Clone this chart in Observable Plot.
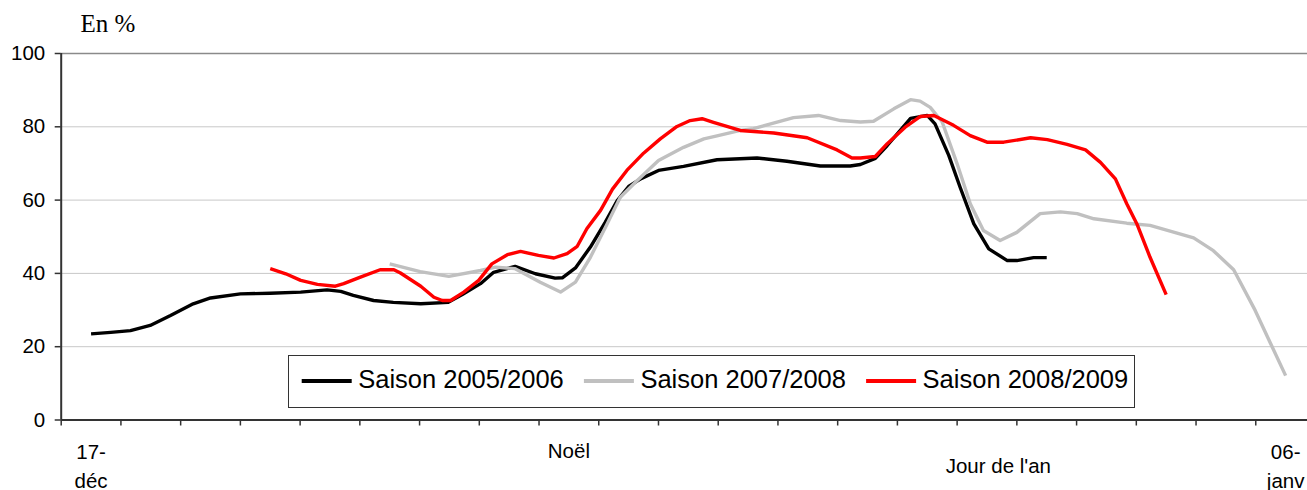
<!DOCTYPE html>
<html>
<head>
<meta charset="utf-8">
<script src="https://cdn.jsdelivr.net/npm/d3@7"></script>
<script src="https://cdn.jsdelivr.net/npm/@observablehq/plot@0.6"></script>
<style>
  html, body { margin: 0; padding: 0; background: white; overflow: hidden; }
</style>
</head>
<body>
<div id="chart"></div>
<script>
// ---- data (x = position on the category axis: 17-déc centre = 0.5, each day = 1) ----
const seriesNames = ["Saison 2005/2006", "Saison 2007/2008", "Saison 2008/2009"];
const seriesColors = ["#000000", "#c0c0c0", "#ff0000"];

const blackPos = [0.5,0.83,1.16,1.49,1.83,2.21,2.5,3.0,3.5,4.01,4.45,4.68,4.89,5.23,5.56,6.02,6.48,6.73,7.02,7.24,7.6,7.94,8.27,8.39,8.61,8.86,9.11,9.31,9.5,9.7,10.0,10.42,10.98,11.65,12.15,12.71,13.21,13.38,13.63,13.83,14.22,14.5,14.63,14.86,15.05,15.28,15.53,15.84,16.0,16.28,16.5];
const blackVal = [23.5,23.9,24.4,25.8,28.5,31.7,33.3,34.4,34.6,34.9,35.5,35.1,34.0,32.6,32.1,31.7,32.1,34.4,37.2,40.3,41.9,39.9,38.7,38.8,41.5,47.2,54.0,59.9,63.7,65.8,68.1,69.2,71.0,71.5,70.6,69.3,69.3,69.7,71.4,74.9,82.3,83.1,80.8,72.2,63.5,53.5,46.7,43.5,43.5,44.3,44.3];

const grayPos = [5.5,6.01,6.49,7.02,7.27,7.6,8.02,8.36,8.61,8.86,9.14,9.36,9.64,10.0,10.42,10.76,10.98,11.37,11.59,12.26,12.68,13.05,13.38,13.6,13.94,14.22,14.38,14.55,14.75,15.0,15.22,15.44,15.72,16.0,16.39,16.73,17.01,17.29,17.84,18.23,18.96,19.29,19.63,19.99,20.25,20.5];
const grayVal = [42.6,40.5,39.2,40.8,41.7,41.3,37.6,34.9,37.6,44.4,53.5,60.8,65.3,70.8,74.4,76.7,77.5,79.0,79.5,82.5,83.1,81.7,81.3,81.5,84.9,87.4,87.0,85.3,81.3,69.9,59.0,51.7,49.0,51.2,56.3,56.8,56.3,54.9,53.7,53.1,49.7,46.2,41.0,29.9,20.8,12.1];

const redPos = [3.5,3.76,4.01,4.29,4.59,4.73,5.01,5.34,5.57,5.68,6.02,6.24,6.38,6.52,6.74,6.99,7.21,7.47,7.69,7.99,8.25,8.47,8.64,8.8,9.03,9.23,9.47,9.75,10.03,10.31,10.53,10.73,10.92,11.37,11.93,12.49,12.99,13.24,13.38,13.63,13.83,14.13,14.38,14.61,14.94,15.22,15.5,15.78,16.23,16.51,16.84,17.15,17.4,17.65,17.84,18.01,18.23,18.5];
const redVal = [41.3,39.9,38.1,37.0,36.5,37.2,39.0,41.0,41.0,40.1,36.5,33.5,32.6,32.6,34.9,38.1,42.6,45.1,46.0,44.9,44.2,45.4,47.4,52.2,57.2,63.0,68.1,72.8,76.7,80.1,81.7,82.2,81.2,79.0,78.3,77.0,73.7,71.5,71.5,71.9,75.4,79.9,82.8,83.1,80.4,77.6,75.8,75.8,77.0,76.5,75.2,73.7,70.3,65.8,59.0,53.5,44.4,34.2];

const yTicks = [0, 20, 40, 60, 80, 100];
const gridValues = [20, 40, 60, 80];
const xTicks = d3.range(0, 22);

const twoLineLabels = [
  {pos: 0.5, label: "17-\ndéc"},
  {pos: 20.5, label: "06-\njanv"}
];
const noelLabel = [{pos: 8.5, label: "Noël"}];
const anLabel = [{pos: 15.69, label: "Jour de l'an"}];

// ---- build table ----
const allPos = [blackPos, grayPos, redPos];
const allVal = [blackVal, grayVal, redVal];
const rows = [];
seriesNames.forEach((name, i) => {
  allPos[i].forEach((p, j) => rows.push({series: name, pos: p, val: allVal[i][j]}));
});

const sans = "'Liberation Sans', Arial, sans-serif";

const svg = Plot.plot({
  width: 1307,
  height: 490,
  marginLeft: 60.7,
  marginTop: 53,
  marginBottom: 70.5,
  marginRight: 0,
  x: {domain: [0, 21], range: [60.7, 1315]},
  y: {domain: [0, 100], range: [419.5, 53]},
  color: {domain: seriesNames, range: seriesColors},
  style: {fontFamily: sans, background: "white", color: "black", overflow: "visible"},
  marks: [
    Plot.ruleY(gridValues, {stroke: "#c8c8c8", strokeWidth: 1}),
    Plot.ruleY([100], {stroke: "#8a8a8a", strokeWidth: 1.5}),
    Plot.lineY(rows, {x: "pos", y: "val", z: "series", stroke: "series",
      strokeWidth: 3.4, strokeLinejoin: "round", strokeLinecap: "butt", curve: "linear"}),
    Plot.ruleX([0], {stroke: "#333", strokeWidth: 2}),
    Plot.ruleY([0], {stroke: "#333", strokeWidth: 2}),
    Plot.axisY({ticks: yTicks, tickSize: 6, tickPadding: 10, fontSize: 20.5,
      stroke: "#333", strokeWidth: 1.5, label: null}),
    Plot.axisX({ticks: xTicks, tickFormat: () => "", tickSize: 6,
      stroke: "#333", strokeWidth: 1.5, label: null}),
    Plot.text(twoLineLabels, {x: "pos", text: "label", frameAnchor: "bottom",
      dy: 44, lineHeight: 1.4, lineAnchor: "middle", fontSize: 20.5}),
    Plot.text(noelLabel, {x: "pos", text: "label", frameAnchor: "bottom",
      dy: 31, lineAnchor: "middle", fontSize: 20.5}),
    Plot.text(anLabel, {x: "pos", text: "label", frameAnchor: "bottom",
      dy: 46, lineAnchor: "middle", fontSize: 20.5}),
    Plot.text(["En %"], {frameAnchor: "top-left", dx: 19.3, dy: -29.5,
      textAnchor: "start", lineAnchor: "middle", fontSize: 25,
      fontFamily: "'Liberation Serif', 'Times New Roman', serif"})
  ]
});

// ---- legend box ----
const g = d3.select(svg).append("g").attr("text-anchor", "start");
g.append("rect")
  .attr("x", 288.5).attr("y", 355.5).attr("width", 846).attr("height", 52)
  .attr("fill", "white").attr("stroke", "#333").attr("stroke-width", 1);
seriesNames.forEach((name, i) => {
  const x0 = 301.7 + i * 282.2;
  g.append("line")
    .attr("x1", x0).attr("x2", x0 + 50).attr("y1", 381).attr("y2", 381)
    .attr("stroke", seriesColors[i]).attr("stroke-width", 4);
  g.append("text")
    .attr("x", x0 + 56.5).attr("y", 387.5)
    .attr("text-anchor", "start")
    .attr("font-family", sans).attr("font-size", 25.5).attr("fill", "black")
    .text(name);
});

document.getElementById("chart").appendChild(svg);
</script>
</body>
</html>
